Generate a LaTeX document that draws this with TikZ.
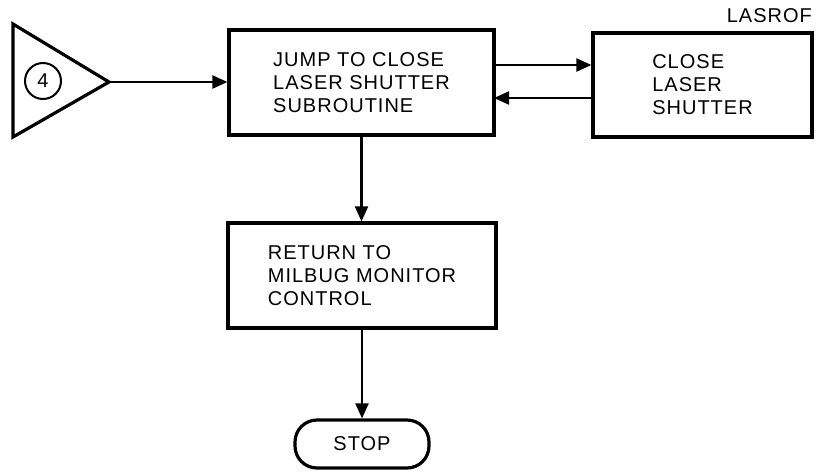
\documentclass[tikz,border=0pt]{standalone}
\usepackage{fontspec}
\setmainfont[LetterSpace=5]{Liberation Sans}
\usetikzlibrary{arrows.meta}
\newcommand{\lfont}{\fontsize{20}{23}\selectfont}
\begin{document}
\begin{tikzpicture}[x=1pt,y=-1pt,
  box/.style={draw, line width=3.2pt, minimum height=105pt, align=left, font=\lfont, inner sep=0pt},
  conn/.style={line width=2.2pt, -{Triangle[length=15pt,width=13pt]}},
  lbl/.style={font=\lfont, inner sep=0pt}]
\useasboundingbox (0,0) rectangle (818,474);
\fill[white] (0,0) rectangle (818,474);
% off-page connector
\draw[line width=3.2pt, line join=miter] (13,24) -- (109,82) -- (13,137) -- cycle;
\coordinate (tip) at (109,82);
\node[draw, circle, line width=2pt, minimum size=36pt, inner sep=0pt, font=\lfont] (c4) at (43,81) {4};
% boxes
\node[box, minimum width=265pt] (b1) at (361.5,82.5) {JUMP TO CLOSE\\LASER SHUTTER\\SUBROUTINE};
\node[box, minimum width=219pt, minimum height=104pt] (b2) at (702.5,85) {CLOSE\\LASER\\SHUTTER};
\node[lbl, anchor=east] (lasrof) at (812,16) {LASROF};
\node[box, minimum width=268pt] (b3) at (362,275.5) {RETURN TO\\MILBUG MONITOR\\CONTROL};
\node[draw, line width=3.2pt, minimum width=134pt, minimum height=48pt, rounded corners=22pt, font=\lfont, inner sep=0pt] (stop) at (362,444) {STOP};
% connectors
\draw[conn] (tip) -- (tip -| b1.west);
\coordinate (r1) at (494,65);
\coordinate (r2) at (494,98);
\draw[conn] (r1) -- (r1 -| b2.west);
\draw[conn] (r2 -| b2.west) -- (r2);
\draw[conn] (b1.south) -- (b1.south |- b3.north);
\draw[conn] (b3.south) -- (b3.south |- stop.north);
\end{tikzpicture}
\end{document}
